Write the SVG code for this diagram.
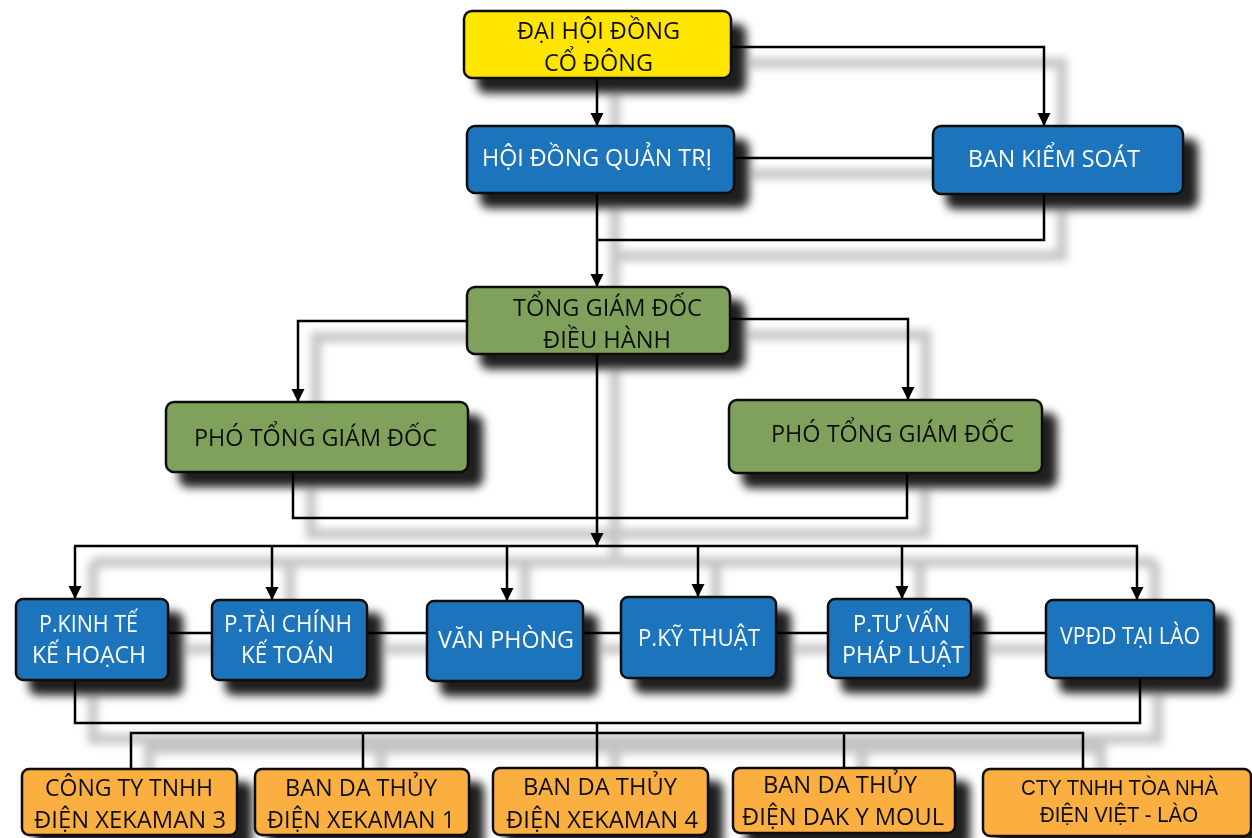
<svg xmlns="http://www.w3.org/2000/svg" xmlns:xlink="http://www.w3.org/1999/xlink" width="1252" height="838" viewBox="0 0 1252 838">
<style>
.box{stroke:#111;stroke-width:2.5}
.y{fill:#FFE500}
.b{fill:#1C75BC}
.g{fill:#7FA15B}
.o{fill:#FBAF40}
.t{font-family:"Open Sans","Noto Sans",sans-serif;font-size:24px;text-anchor:middle}
.tk{fill:#111}
.tw{fill:#fff}
.ta{font-family:"Liberation Sans",Arial,sans-serif;font-size:22px;text-anchor:middle;fill:#111}
.c{fill:none;stroke:#000;stroke-width:2.5}
</style>
<defs>
<filter id="ds" x="-20%" y="-30%" width="150%" height="180%">
<feGaussianBlur in="SourceAlpha" stdDeviation="5"/>
<feOffset dx="14" dy="14" result="o"/>
<feFlood flood-color="#000" flood-opacity="0.88"/>
<feComposite in2="o" operator="in" result="s"/>
<feMerge><feMergeNode in="s"/><feMergeNode in="SourceGraphic"/></feMerge>
</filter>
<filter id="ls" x="-10%" y="-10%" width="120%" height="120%">
<feGaussianBlur stdDeviation="4"/>
</filter>
<marker id="ar" markerUnits="userSpaceOnUse" markerWidth="14" markerHeight="14" refX="13" refY="6.5" orient="auto">
<path d="M0,0 L13,6.5 L0,13 z" fill="#000"/>
</marker>
<g id="lines">
<path d="M731,47 H1044 V120"/>
<path d="M734,158 H933"/>
<path d="M1044,194 V240 H597"/>
<path d="M597,78 V120"/>
<path d="M597,193 V281"/>
<path d="M467,321 H298 V396"/>
<path d="M730,319 H908 V394"/>
<path d="M293,472 V518 H907 V473"/>
<path d="M597,354 V540"/>
<path d="M75,546 H1137"/>
<path d="M75,546 V593 M272,546 V594 M507,546 V595 M698,546 V591 M902,546 V593 M1137,546 V594"/>
<path d="M168,633 H212 M367,633 H427 M583,633 H621 M776,633 H828 M971,633 H1046"/>
<path d="M75,680 V723 H1140 V678"/>
<path d="M597,723 V768"/>
<path d="M131,769 V733 H1083 V769 M363,733 V769 M844,733 V768"/>
</g>
</defs>
<rect width="1252" height="838" fill="#fff"/>
<g id="connector-shadows">
<use xlink:href="#lines" href="#lines" transform="translate(18,16)" fill="none" stroke="#c4c4c4" stroke-width="10" filter="url(#ls)"/>
</g>
<g id="connectors">
<path class="c" d="M597,78 V126" marker-end="url(#ar)"/>
<path class="c" d="M731,47 H1044 V126" marker-end="url(#ar)"/>
<path class="c" d="M734,158 H933"/>
<path class="c" d="M597,193 V287" marker-end="url(#ar)"/>
<path class="c" d="M1044,194 V240 H597"/>
<path class="c" d="M467,321 H298 V402" marker-end="url(#ar)"/>
<path class="c" d="M730,319 H908 V400" marker-end="url(#ar)"/>
<path class="c" d="M293,472 V518 H907 V473"/>
<path class="c" d="M597,354 V546" marker-end="url(#ar)"/>
<path class="c" d="M74,546 H1138"/>
<path class="c" d="M75,546 V599" marker-end="url(#ar)"/>
<path class="c" d="M272,546 V600" marker-end="url(#ar)"/>
<path class="c" d="M507,546 V601" marker-end="url(#ar)"/>
<path class="c" d="M698,546 V597" marker-end="url(#ar)"/>
<path class="c" d="M902,546 V599" marker-end="url(#ar)"/>
<path class="c" d="M1137,546 V600" marker-end="url(#ar)"/>
<path class="c" d="M168,633 H212 M367,633 H427 M583,633 H621 M776,633 H828 M971,633 H1046"/>
<path class="c" d="M75,680 V723 H1140 V678"/>
<path class="c" d="M597,723 V768"/>
<path class="c" d="M131,769 V733 H1083 V769 M363,733 V769 M844,733 V768"/>
</g>
<g id="dhdcd" filter="url(#ds)">
<rect class="box y" x="464" y="11" width="267" height="67" rx="8"/>
<text class="t tk" x="598.5" y="39" textLength="163" lengthAdjust="spacingAndGlyphs">ĐẠI HỘI ĐỒNG</text>
<text class="t tk" x="598.5" y="71" textLength="109" lengthAdjust="spacingAndGlyphs">CỔ ĐÔNG</text>
</g>
<g id="hdqt" filter="url(#ds)">
<rect class="box b" x="467" y="126" width="267" height="67" rx="8"/>
<text class="t tw" x="597" y="166" textLength="230" lengthAdjust="spacingAndGlyphs">HỘI ĐỒNG QUẢN TRỊ</text>
</g>
<g id="bks" filter="url(#ds)">
<rect class="box b" x="933" y="126" width="250" height="68" rx="8"/>
<text class="t tw" x="1054" y="167" textLength="172" lengthAdjust="spacingAndGlyphs">BAN KIỂM SOÁT</text>
</g>
<g id="tgd" filter="url(#ds)">
<rect class="box g" x="467" y="287" width="263" height="67" rx="8"/>
<text class="t tk" x="607.5" y="316" textLength="189" lengthAdjust="spacingAndGlyphs">TỔNG GIÁM ĐỐC</text>
<text class="t tk" x="607" y="348" textLength="128" lengthAdjust="spacingAndGlyphs">ĐIỀU HÀNH</text>
</g>
<g id="ptgd1" filter="url(#ds)">
<rect class="box g" x="166" y="402" width="302" height="70" rx="8"/>
<text class="t tk" x="315.5" y="446" textLength="243" lengthAdjust="spacingAndGlyphs">PHÓ TỔNG GIÁM ĐỐC</text>
</g>
<g id="ptgd2" filter="url(#ds)">
<rect class="box g" x="729" y="400" width="313" height="73" rx="8"/>
<text class="t tk" x="892.5" y="442" textLength="243" lengthAdjust="spacingAndGlyphs">PHÓ TỔNG GIÁM ĐỐC</text>
</g>
<g id="pkt" filter="url(#ds)">
<rect class="box b" x="16" y="599" width="152" height="81" rx="7"/>
<text class="t tw" x="88.5" y="632" textLength="99" lengthAdjust="spacingAndGlyphs">P.KINH TẾ</text>
<text class="t tw" x="89" y="663" textLength="114" lengthAdjust="spacingAndGlyphs">KẾ HOẠCH</text>
</g>
<g id="ptc" filter="url(#ds)">
<rect class="box b" x="212" y="600" width="155" height="80" rx="7"/>
<text class="t tw" x="288" y="632" textLength="128" lengthAdjust="spacingAndGlyphs">P.TÀI CHÍNH</text>
<text class="t tw" x="287.5" y="663" textLength="93" lengthAdjust="spacingAndGlyphs">KẾ TOÁN</text>
</g>
<g id="vp" filter="url(#ds)">
<rect class="box b" x="427" y="601" width="156" height="80" rx="7"/>
<text class="t tw" x="506" y="648" textLength="136" lengthAdjust="spacingAndGlyphs">VĂN PHÒNG</text>
</g>
<g id="pkth" filter="url(#ds)">
<rect class="box b" x="621" y="597" width="155" height="81" rx="7"/>
<text class="t tw" x="699" y="646" textLength="122" lengthAdjust="spacingAndGlyphs">P.KỸ THUẬT</text>
</g>
<g id="ptv" filter="url(#ds)">
<rect class="box b" x="828" y="599" width="143" height="79" rx="7"/>
<text class="t tw" x="901.5" y="632" textLength="97" lengthAdjust="spacingAndGlyphs">P.TƯ VẤN</text>
<text class="t tw" x="903" y="663" textLength="122" lengthAdjust="spacingAndGlyphs">PHÁP LUẬT</text>
</g>
<g id="vpdd" filter="url(#ds)">
<rect class="box b" x="1046" y="600" width="168" height="78" rx="7"/>
<text class="t tw" x="1130" y="644" textLength="140" lengthAdjust="spacingAndGlyphs">VPĐD TẠI LÀO</text>
</g>
<g id="xk3" filter="url(#ds)">
<rect class="box o" x="22" y="769" width="215" height="66" rx="7"/>
<text class="t tk" x="129" y="796" textLength="168" lengthAdjust="spacingAndGlyphs">CÔNG TY TNHH</text>
<text class="t tk" x="130" y="828" textLength="192" lengthAdjust="spacingAndGlyphs">ĐIỆN XEKAMAN 3</text>
</g>
<g id="xk1" filter="url(#ds)">
<rect class="box o" x="255" y="769" width="214" height="66" rx="7"/>
<text class="t tk" x="361" y="796" textLength="152" lengthAdjust="spacingAndGlyphs">BAN DA THỦY</text>
<text class="t tk" x="361" y="828" textLength="188" lengthAdjust="spacingAndGlyphs">ĐIỆN XEKAMAN 1</text>
</g>
<g id="xk4" filter="url(#ds)">
<rect class="box o" x="493" y="768" width="215" height="67" rx="7"/>
<text class="t tk" x="600" y="795" textLength="154" lengthAdjust="spacingAndGlyphs">BAN DA THỦY</text>
<text class="t tk" x="602" y="828" textLength="192" lengthAdjust="spacingAndGlyphs">ĐIỆN XEKAMAN 4</text>
</g>
<g id="dakymoul" filter="url(#ds)">
<rect class="box o" x="733" y="768" width="222" height="65" rx="7"/>
<text class="t tk" x="840" y="793" textLength="154" lengthAdjust="spacingAndGlyphs">BAN DA THỦY</text>
<text class="t tk" x="843" y="825" textLength="202" lengthAdjust="spacingAndGlyphs">ĐIỆN DAK Y MOUL</text>
</g>
<g id="toanha" filter="url(#ds)">
<rect class="box o" x="983" y="769" width="268" height="67" rx="7"/>
<text class="ta" x="1119.5" y="795" textLength="197" lengthAdjust="spacingAndGlyphs">CTY TNHH TÒA NHÀ</text>
<text class="ta" x="1119" y="822" textLength="158" lengthAdjust="spacingAndGlyphs">ĐIỆN VIỆT - LÀO</text>
</g>
</svg>
